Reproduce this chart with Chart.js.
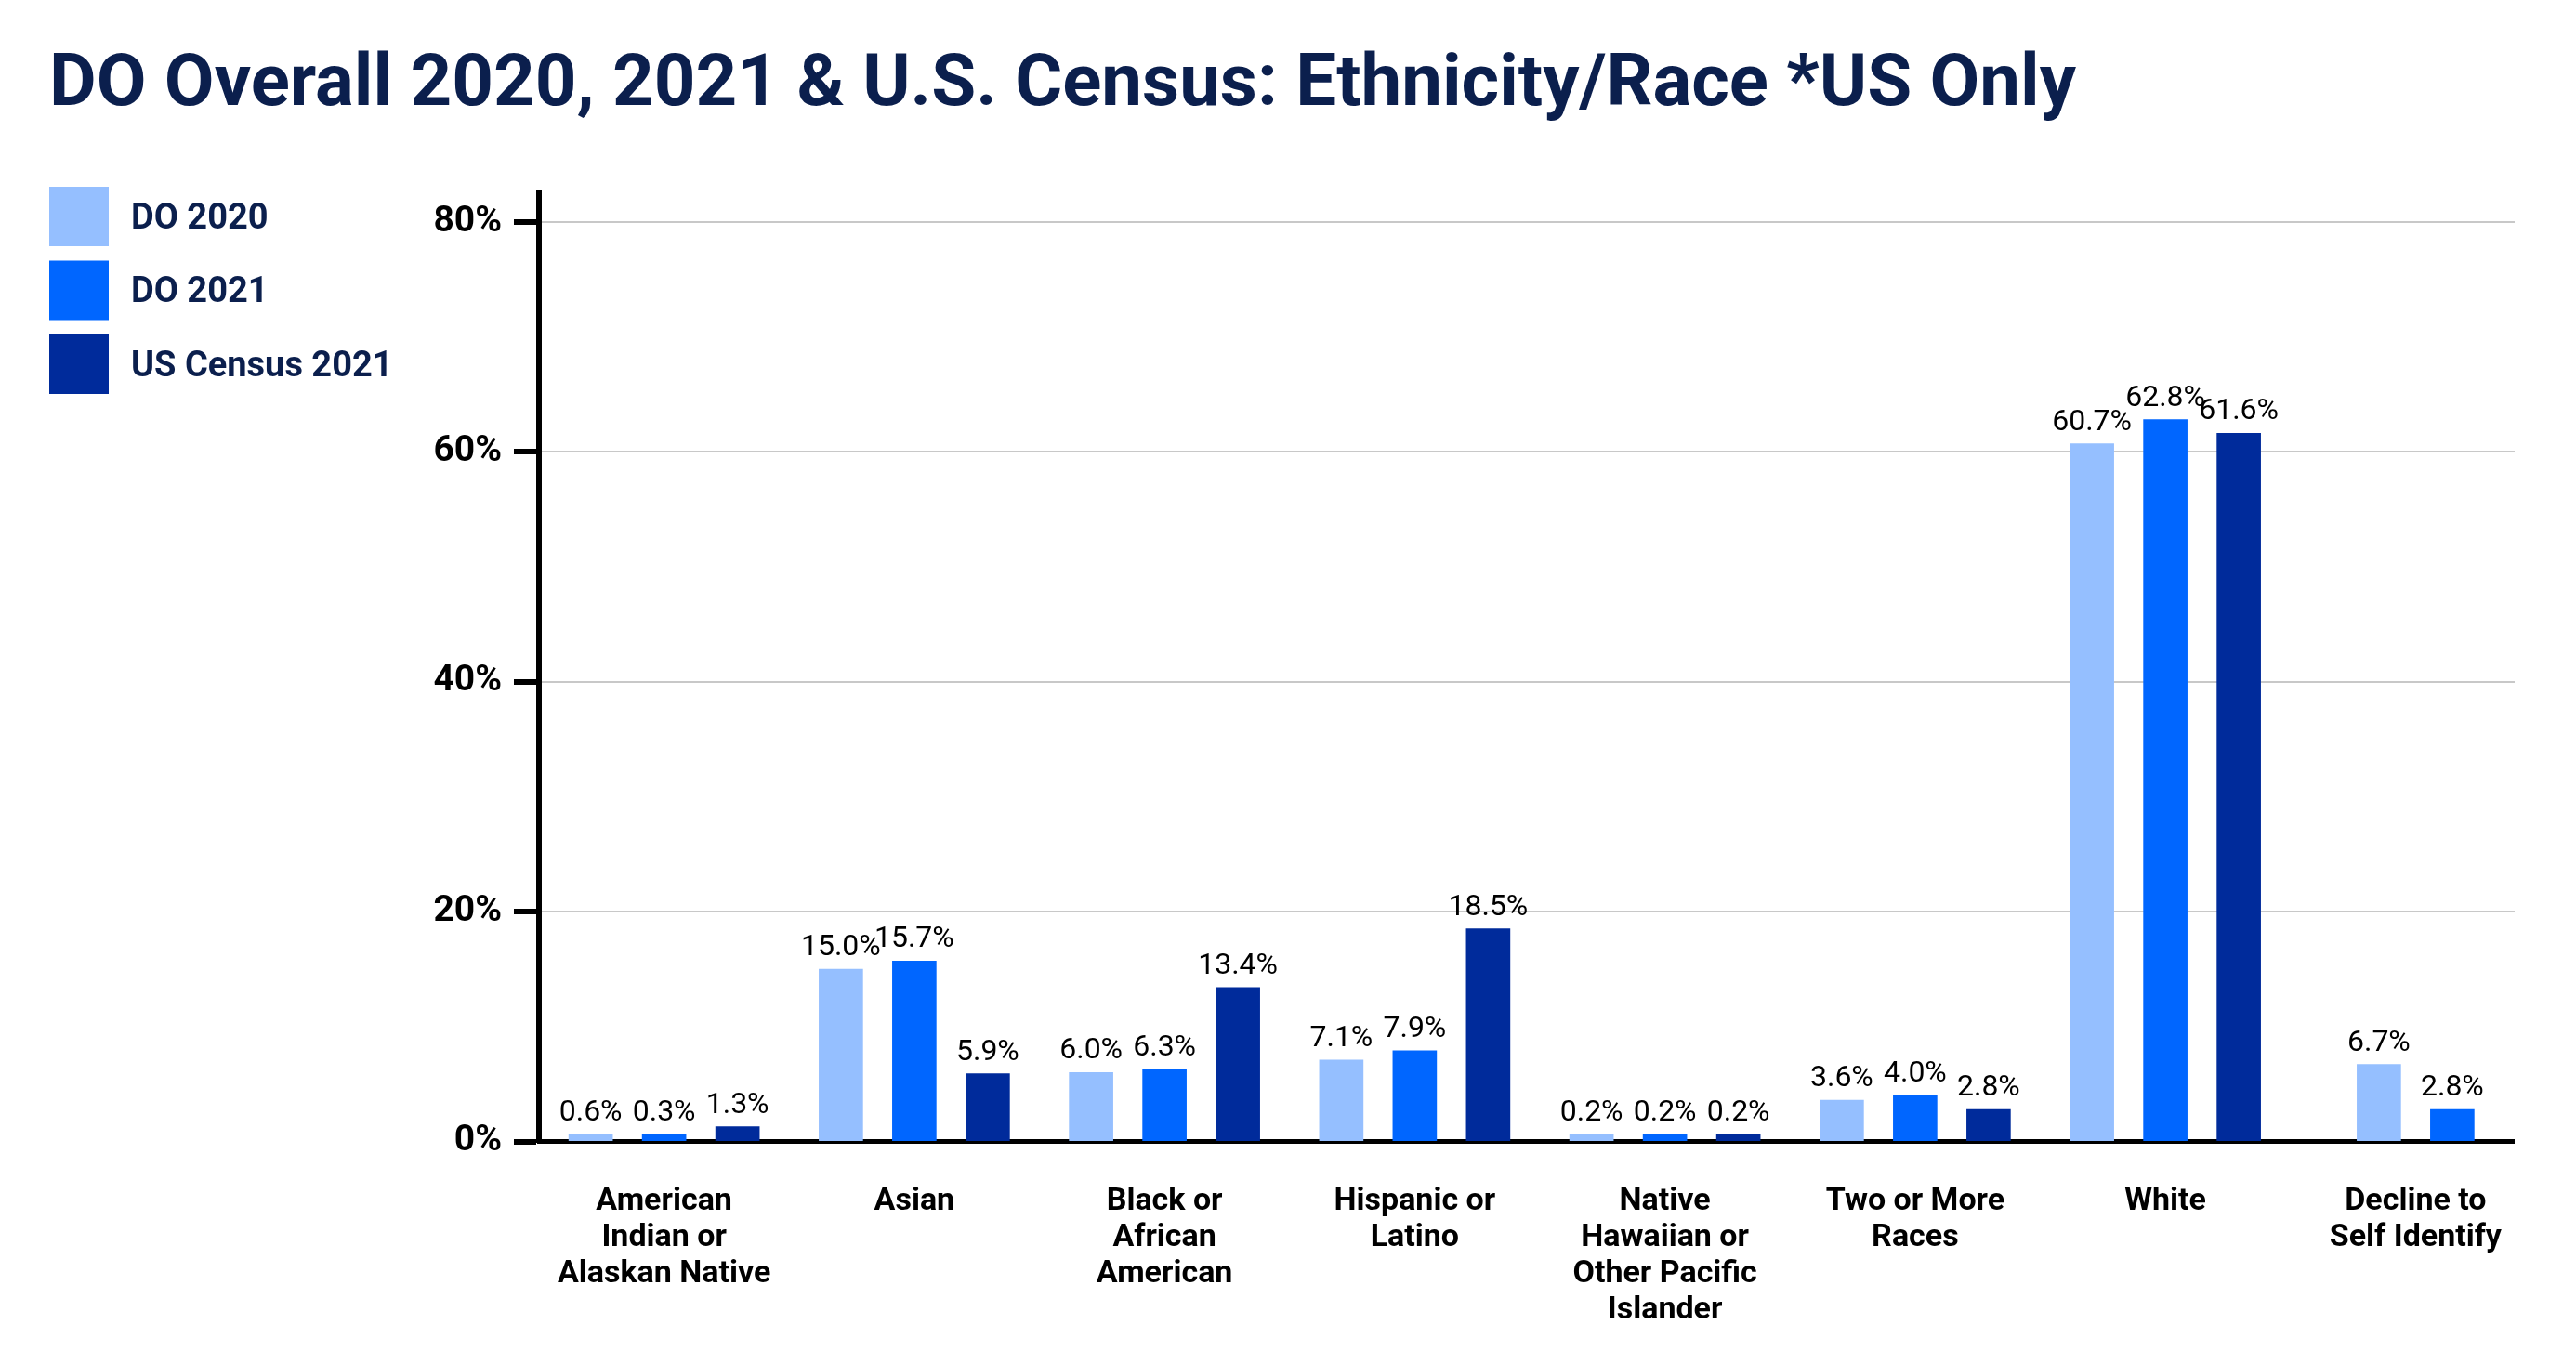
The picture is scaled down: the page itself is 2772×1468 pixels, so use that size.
<!DOCTYPE html>
<html>
<head>
<meta charset="utf-8">
<title>DO Overall 2020, 2021 & U.S. Census: Ethnicity/Race</title>
<script src="https://cdn.jsdelivr.net/npm/chart.js@4.4.1/dist/chart.umd.min.js"></script>
<style>
  html, body { margin: 0; padding: 0; background: #ffffff; }
  #wrap { width: 2772px; height: 1468px; }
</style>
</head>
<body>
<div id="wrap"><canvas id="chart" width="2772" height="1468"></canvas></div>
<script>
// Categories (multi-line labels as drawn under the x axis)
const categories = [
    ['American', 'Indian or', 'Alaskan Native'],
    ['Asian'],
    ['Black or', 'African', 'American'],
    ['Hispanic or', 'Latino'],
    ['Native', 'Hawaiian or', 'Other Pacific', 'Islander'],
    ['Two or More', 'Races'],
    ['White'],
    ['Decline to', 'Self Identify']
];

// Series values in percent
const do2020 = [0.6, 15.0, 6.0, 7.1, 0.2, 3.6, 60.7, 6.7];
const do2021 = [0.3, 15.7, 6.3, 7.9, 0.2, 4.0, 62.8, 2.8];
const census2021 = [1.3, 5.9, 13.4, 18.5, 0.2, 2.8, 61.6, null];

const seriesNames = ['DO 2020', 'DO 2021', 'US Census 2021'];
const seriesColors = ['#95bfff', '#0066ff', '#002b9b'];

const yTicks = [0, 20, 40, 60, 80];

const navy = '#0b1f4d';

// Value labels above each bar
const valueLabels = {
    id: 'valueLabels',
    afterDatasetsDraw(chart) {
        const ctx = chart.ctx;
        ctx.save();
        ctx.font = '400 32px Roboto';
        ctx.fillStyle = '#000000';
        ctx.textAlign = 'center';
        ctx.textBaseline = 'bottom';
        chart.data.datasets.forEach((ds, i) => {
            const meta = chart.getDatasetMeta(i);
            meta.data.forEach((bar, j) => {
                const v = ds.data[j];
                if (v === null || v === undefined) return;
                ctx.fillText(v.toFixed(1) + '%', bar.x, bar.y - 7);
            });
        });
        ctx.restore();
    }
};

// The axis line and gridlines stop a little short of the last category
const trimGrid = {
    id: 'trimGrid',
    beforeDatasetsDraw(chart) {
        const a = chart.chartArea;
        const ctx = chart.ctx;
        ctx.save();
        ctx.fillStyle = '#ffffff';
        ctx.fillRect(a.right - 28, a.top - 4, 40, a.bottom - a.top + 10);
        ctx.restore();
    }
};

// Square swatch legend at the top left
const sideLegend = {
    id: 'sideLegend',
    afterDraw(chart) {
        const ctx = chart.ctx;
        ctx.save();
        ctx.font = '700 38px Roboto';
        ctx.textAlign = 'left';
        ctx.textBaseline = 'middle';
        chart.data.datasets.forEach((ds, i) => {
            const top = 201 + i * 79.5;
            ctx.fillStyle = ds.backgroundColor;
            ctx.fillRect(53, top, 64, 64);
            ctx.fillStyle = navy;
            ctx.fillText(ds.label, 141, top + 35);
        });
        ctx.restore();
    }
};

// each bar gets a 79px slot but is drawn 47px wide; skipNull centres
// the two bars of the last category
const datasets = [do2020, do2021, census2021].map((data, i) => ({
    label: seriesNames[i],
    data: data,
    backgroundColor: seriesColors[i],
    borderWidth: 0,
    barThickness: 79,
    maxBarThickness: 47,
    minBarLength: 8,
    skipNull: true
}));

new Chart(document.getElementById('chart'), {
    type: 'bar',
    data: {
        labels: categories,
        datasets: datasets
    },
    options: {
        responsive: false,
        animation: false,
        layout: {
            padding: { left: 53, right: 38, top: 0, bottom: -7 }
        },
        plugins: {
            legend: { display: false },
            tooltip: { enabled: false },
            title: {
                display: true,
                text: 'DO Overall 2020, 2021 & U.S. Census: Ethnicity/Race *US Only',
                align: 'start',
                color: navy,
                font: { family: 'Roboto', size: 78, weight: '700', lineHeight: 1.2 },
                padding: { top: 47, bottom: 66 }
            }
        },
        scales: {
            x: {
                grid: { display: false, drawTicks: false },
                border: { display: true, color: '#000000', width: 5 },
                ticks: {
                    color: '#000000',
                    font: { family: 'Roboto', size: 34, weight: '700', lineHeight: 1.15 },
                    padding: 45,
                    maxRotation: 0,
                    autoSkip: false
                }
            },
            y: {
                min: 0,
                max: 82.6,
                afterFit(scale) {
                    scale.width = 527;
                },
                afterBuildTicks(scale) {
                    scale.ticks = yTicks.map(v => ({ value: v }));
                },
                grid: {
                    color: '#c8c8c8',
                    lineWidth: 2,
                    tickLength: 27,
                    tickColor: '#000000',
                    tickWidth: 6
                },
                border: { display: true, color: '#000000', width: 6 },
                ticks: {
                    color: '#000000',
                    font: { family: 'Roboto', size: 39, weight: '700' },
                    padding: 13,
                    callback: v => v + '%'
                }
            }
        }
    },
    plugins: [valueLabels, trimGrid, sideLegend]
});
</script>
</body>
</html>
